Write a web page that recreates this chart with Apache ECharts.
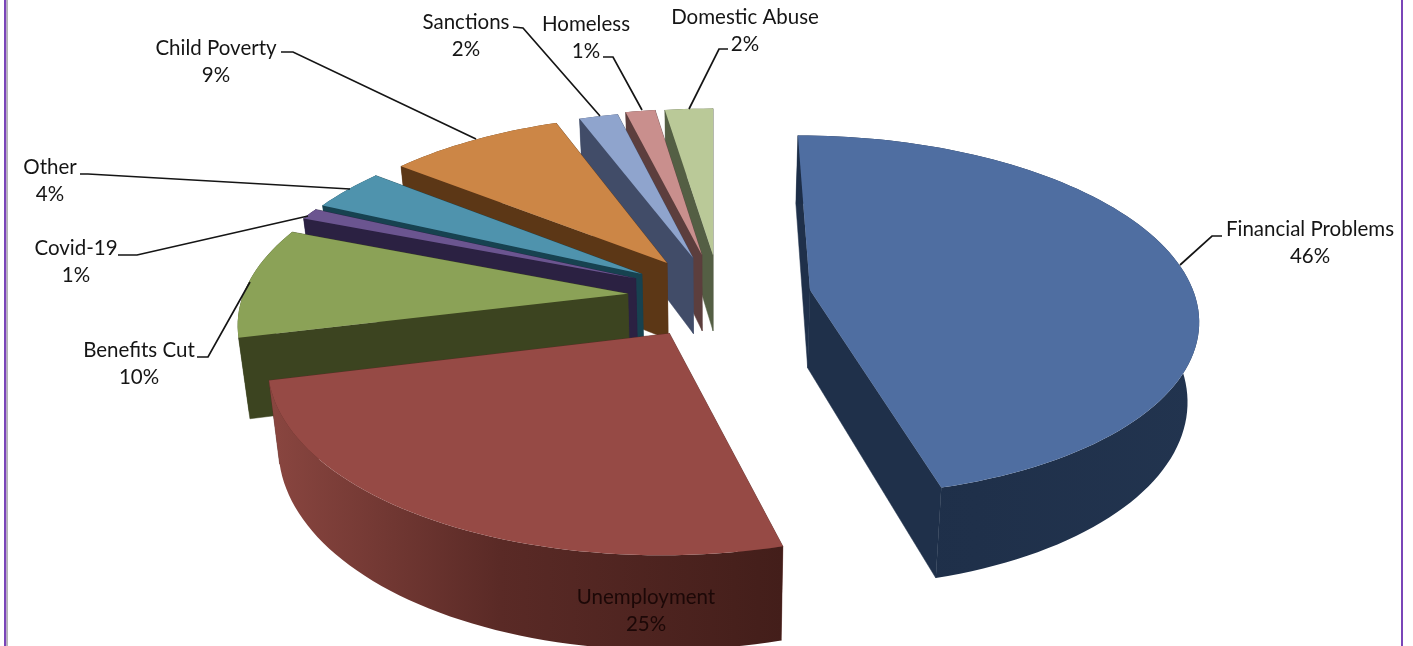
<!DOCTYPE html>
<html><head><meta charset="utf-8">
<script src="https://cdn.jsdelivr.net/npm/echarts@6/dist/echarts.min.js"></script>
<style>html,body{margin:0;padding:0;background:#fff}#c{width:1413px;height:646px}</style>
</head><body><div id="c"></div>
<script>
// DATA
const categories = ['Financial Problems','Unemployment','Benefits Cut','Covid-19','Other','Child Poverty','Sanctions','Homeless','Domestic Abuse'];
const shares = [45.8,25.35,9.8,1,3.75,8.6,1.9,1.45,2.35];

// STYLE
const topColors  = ['#4f6ea1','#964a45','#8ba257','#6b5590','#4f93ad','#cc8646','#8fa4cd','#c98f8d','#bac998'];
const wallColors = ['#1f304a','#5a2a26','#3c4420','#2b2142','#174250','#5c3716','#414c68','#5c3e3d','#545f44'];
const rimLeft    = ['#1d2e48','#8a4640','#3c4420','#2b2142','#174250','#5c3716','#414c68','#5c3e3d','#545f44'];
const rimRight   = ['#22344f','#431e1a','#3c4420','#2b2142','#174250','#5c3716','#414c68','#5c3e3d','#545f44'];

// LAYOUT: explosion offset of every slice on the pie plane, and label anchors
const explodeX = [97,-42,-85,-78,-72,-47,-20.6,-11.4,0];
const explodeY = [0,91,8,-25,-35,-60,-72,-78,-78];
const labelX = [1310,646,139,76,50,216,466,586,745];
const labelY = [243,611,364,262,181,62,36,38,31];
const leaderX = [[1180,1212,1222],[],[197,208,250],[118,137,308],[80,88,350],[281,293,476],[513,523,600],[603,613,642],[728,719,689]];
const leaderY = [[265,236,236],[],[357,357,282],[255,255,216],[174,174,189],[52,52,139],[27,28,116],[57,57,110],[49,49,109]];

// 3D pie camera
const R = 383, D = 2690, K = 0.461, VX = 713, VY = 290, H = 78, LEAN = 0.976;
const total = shares.reduce((a,b)=>a+b,0);
const project = (X,Y,bottom) => {
  const s = 1/(1-Y/D);
  let x = VX+X*s, y = VY+K*Y*s;
  if (bottom) { x = VX+(x-VX)*LEAN; y += H*s; }
  return [x,y];
};
function startOf(i){ let c=0; for(let j=0;j<i;j++) c+=shares[j]; return c/total*Math.PI*2; }

function renderSlice(params, api){
  const i = api.value(1), span = api.value(0)/total*Math.PI*2, a0 = startOf(i);
  const ox = explodeX[i], oy = explodeY[i];
  const arc = [];
  const n = Math.max(3, Math.ceil(span/0.03));
  for (let t=0;t<=n;t++){
    const a = a0+span*t/n;
    arc.push([ox+R*Math.sin(a), oy-R*Math.cos(a)]);
  }
  const apex = [ox,oy];
  const wall = (pts) => pts.map(p=>project(p[0],p[1],false)).concat(pts.slice().reverse().map(p=>project(p[0],p[1],true)));
  const meanY = pts => pts.reduce((s,p)=>s+p[1],0)/pts.length;
  const solid = wallColors[i];
  const walls = [
    {d:meanY(arc), pts:wall(arc), fill:{type:'linear',x:0,y:0,x2:1,y2:0,colorStops:[{offset:0,color:rimLeft[i]},{offset:0.45,color:wallColors[i]},{offset:1,color:rimRight[i]}]}},
    {d:meanY([apex,arc[0]]), pts:wall([apex,arc[0]]), fill:solid},
    {d:meanY([apex,arc[n]]), pts:wall([apex,arc[n]]), fill:solid}
  ].sort((a,b)=>a.d-b.d);
  const children = walls.map(w=>({type:'polygon',shape:{points:w.pts},style:{fill:w.fill,stroke:w.fill===solid?solid:null,lineWidth:0.5}}));
  children.push({type:'polygon',shape:{points:[project(ox,oy,false)].concat(arc.map(p=>project(p[0],p[1],false)))},style:{fill:topColors[i]}});
  return {type:'group',children};
}

function renderLabel(params, api){
  const i = api.value(1);
  const pct = Math.round(api.value(0)/total*100)+'%';
  const kids = [];
  if (leaderX[i].length){
    kids.push({type:'polyline',shape:{points:leaderX[i].map((x,j)=>[x,leaderY[i][j]])},style:{fill:null,stroke:'#151515',lineWidth:1.7}});
  }
  kids.push({type:'text',x:labelX[i],y:labelY[i],style:{
    text:categories[i]+'\n'+pct,fill:i===1?'#1c0807':'#151515',
    font:'20.5px Lato, sans-serif',lineHeight:26.5,align:'center',verticalAlign:'middle'}});
  return {type:'group',children:kids};
}

// painted back to front
const drawData = categories.map((c,i)=>[shares[i],i]).reverse();

const chart = echarts.init(document.getElementById('c'),null,{renderer:'canvas'});
chart.setOption({
  animation:false,
  backgroundColor:'#ffffff',
  graphic:[
    {type:'rect',shape:{x:4,y:0,width:2.5,height:646},style:{fill:'#7a45b8'},z:10},
    {type:'rect',shape:{x:6.5,y:0,width:1.5,height:646},style:{fill:'#b5b5b5'},z:10},
    {type:'rect',shape:{x:1401,y:0,width:2,height:646},style:{fill:'#7a45b8'},z:10}
  ],
  series:[
    {type:'custom',coordinateSystem:'none',silent:true,renderItem:renderSlice,data:drawData,z:2},
    {type:'custom',coordinateSystem:'none',silent:true,renderItem:renderLabel,data:drawData,z:3}
  ]
});
</script></body></html>
